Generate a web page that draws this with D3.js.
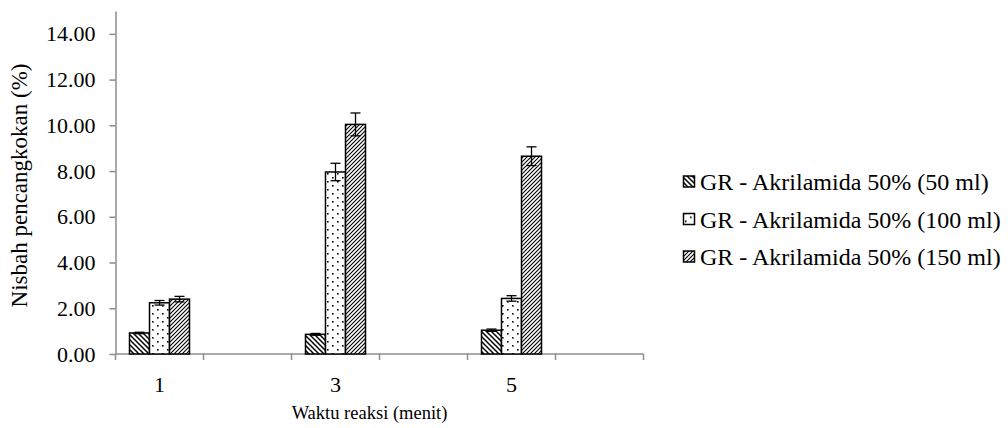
<!DOCTYPE html>
<html lang="en">
<head>
    <meta charset="UTF-8">
    <title>Nisbah pencangkokan</title>
    <script src="https://d3js.org/d3.v7.min.js"></script>
    <style>
        body {
            margin: 0;
            background: #fff;
        }
        .axis path, .axis line {
            stroke: #8c8c8c;
            stroke-width: 1.5px;
        }
        .bar {
            stroke: #000;
            stroke-width: 1.5px;
        }
        .err {
            stroke: #000;
            stroke-width: 1.3px;
        }
    </style>
</head>
<body>
<svg id="chart" width="1008" height="428"></svg>
<script>
    // category slots on the x axis (only odd ones carry data / labels)
    const slots = ["1", "2", "3", "4", "5", "6"];
    const times = ["1", "3", "5"];
    const seriesNames = [
        "GR - Akrilamida 50% (50 ml)",
        "GR - Akrilamida 50% (100 ml)",
        "GR - Akrilamida 50% (150 ml)"
    ];
    const patternIds = ["p50", "p100", "p150"];

    // values per time (1, 3, 5 menit)
    const v50 = [0.92, 0.86, 1.04];
    const v100 = [2.24, 7.96, 2.43];
    const v150 = [2.40, 10.04, 8.65];
    const e50 = [0.03, 0.04, 0.05];
    const e100 = [0.10, 0.38, 0.12];
    const e150 = [0.12, 0.50, 0.41];

    const yTicks = [0, 2, 4, 6, 8, 10, 12, 14];

    const values = [v50, v100, v150];
    const errors = [e50, e100, e150];

    const serif = "'Liberation Serif', 'Times New Roman', serif";
    const svg = d3.select("#chart");

    const x0 = 115.5, x1 = 643.5, yBottom = 354, yTop = 11;

    let x = d3.scaleBand().domain(slots).range([x0, x1]).padding(0);
    let gap = 14;
    let xs = d3.scaleBand().domain(d3.range(3)).range([gap, x.bandwidth() - gap]);
    let y = d3.scaleLinear().domain([0, 15]).range([yBottom, yTop]);

    // patterns
    const defs = svg.append("defs");
    let p1 = defs.append("pattern").attr("id", "p50")
        .attr("patternUnits", "userSpaceOnUse").attr("width", 5).attr("height", 5);
    p1.append("rect").attr("width", 5).attr("height", 5).attr("fill", "#fff");
    p1.append("path").attr("d", "M-1,-1 L6,6 M-1,4 L1,6 M4,-1 L6,1")
        .attr("stroke", "#000").attr("stroke-width", 1.5);

    let p2 = defs.append("pattern").attr("id", "p100")
        .attr("patternUnits", "userSpaceOnUse").attr("width", 10).attr("height", 8);
    p2.append("rect").attr("width", 10).attr("height", 8).attr("fill", "#fff");
    p2.append("rect").attr("x", 2).attr("y", 1).attr("width", 1.6).attr("height", 1.6).attr("fill", "#000");
    p2.append("rect").attr("x", 7).attr("y", 5).attr("width", 1.6).attr("height", 1.6).attr("fill", "#000");

    let p3 = defs.append("pattern").attr("id", "p150")
        .attr("patternUnits", "userSpaceOnUse").attr("width", 4).attr("height", 4);
    p3.append("rect").attr("width", 4).attr("height", 4).attr("fill", "#fff");
    p3.append("path").attr("d", "M-1,5 L5,-1 M-1,1 L1,-1 M3,5 L5,3")
        .attr("stroke", "#000").attr("stroke-width", 1.1);

    // y axis
    let ya = svg.append("g")
        .attr("class", "axis")
        .attr("transform", `translate(${x0},0)`)
        .call(d3.axisLeft(y).tickValues(yTicks).tickFormat(d3.format(".2f")).tickSize(6).tickPadding(14).tickSizeOuter(0));
    ya.attr("font-family", serif).attr("font-size", 22);
    ya.selectAll("text").attr("fill", "#000").style("font-family", serif).style("font-size", "22px");

    // x axis line and boundary ticks
    let xg = svg.append("g").attr("class", "axis");
    xg.append("path").attr("d", `M${x0},${yBottom}H${x1}`).attr("fill", "none");
    let bounds = slots.map(s => x(s)).concat([x1]);
    xg.selectAll("line.tk").data(bounds).enter().append("line")
        .attr("class", "tk")
        .attr("x1", d => d).attr("x2", d => d)
        .attr("y1", yBottom).attr("y2", yBottom + 6);
    xg.selectAll("text.lbl").data(times).enter().append("text")
        .attr("class", "lbl")
        .attr("x", d => x(d) + x.bandwidth() / 2)
        .attr("y", 392)
        .attr("text-anchor", "middle")
        .style("font-family", serif)
        .style("font-size", "22px")
        .text(d => d);

    // bars
    for (let s = 0; s < 3; s++) {
        let g = svg.append("g");
        g.selectAll("rect").data(times).enter().append("rect")
            .attr("class", "bar")
            .attr("x", d => x(d) + xs(s))
            .attr("width", xs.bandwidth())
            .attr("y", (d, i) => y(values[s][i]))
            .attr("height", (d, i) => y(0) - y(values[s][i]))
            .attr("fill", `url(#${patternIds[s]})`);

        let eb = g.selectAll("g.eb").data(times).enter().append("g").attr("class", "err");
        eb.append("line")
            .attr("x1", d => x(d) + xs(s) + xs.bandwidth() / 2)
            .attr("x2", d => x(d) + xs(s) + xs.bandwidth() / 2)
            .attr("y1", (d, i) => y(values[s][i] - errors[s][i]))
            .attr("y2", (d, i) => y(values[s][i] + errors[s][i]));
        eb.append("line")
            .attr("x1", d => x(d) + xs(s) + xs.bandwidth() / 2 - 5)
            .attr("x2", d => x(d) + xs(s) + xs.bandwidth() / 2 + 5)
            .attr("y1", (d, i) => y(values[s][i] + errors[s][i]))
            .attr("y2", (d, i) => y(values[s][i] + errors[s][i]));
        eb.append("line")
            .attr("x1", d => x(d) + xs(s) + xs.bandwidth() / 2 - 5)
            .attr("x2", d => x(d) + xs(s) + xs.bandwidth() / 2 + 5)
            .attr("y1", (d, i) => y(values[s][i] - errors[s][i]))
            .attr("y2", (d, i) => y(values[s][i] - errors[s][i]));
    }

    // axis titles
    svg.append("text")
        .attr("x", (x0 + x1) / 2 - 10)
        .attr("y", 419)
        .attr("text-anchor", "middle")
        .style("font-family", serif)
        .style("font-size", "18.5px")
        .text("Waktu reaksi (menit)");

    svg.append("text")
        .attr("transform", `translate(27,${(yTop + yBottom) / 2 + 3}) rotate(-90)`)
        .attr("text-anchor", "middle")
        .style("font-family", serif)
        .style("font-size", "23px")
        .text("Nisbah pencangkokan (%)");

    // legend
    let legend = svg.append("g").attr("transform", "translate(683,0)");
    let rowsY = [182, 219.5, 257];
    let items = legend.selectAll("g").data(seriesNames).enter().append("g")
        .attr("transform", (d, i) => `translate(0,${rowsY[i]})`);
    items.append("rect")
        .attr("x", 0.5).attr("y", -6)
        .attr("width", 11).attr("height", 11)
        .attr("fill", (d, i) => `url(#${patternIds[i]})`)
        .attr("stroke", "#000").attr("stroke-width", 1.5);
    items.append("text")
        .attr("x", 17)
        .attr("y", 8)
        .style("font-family", serif)
        .style("font-size", "24px")
        .text(d => d);
</script>
</body>
</html>
